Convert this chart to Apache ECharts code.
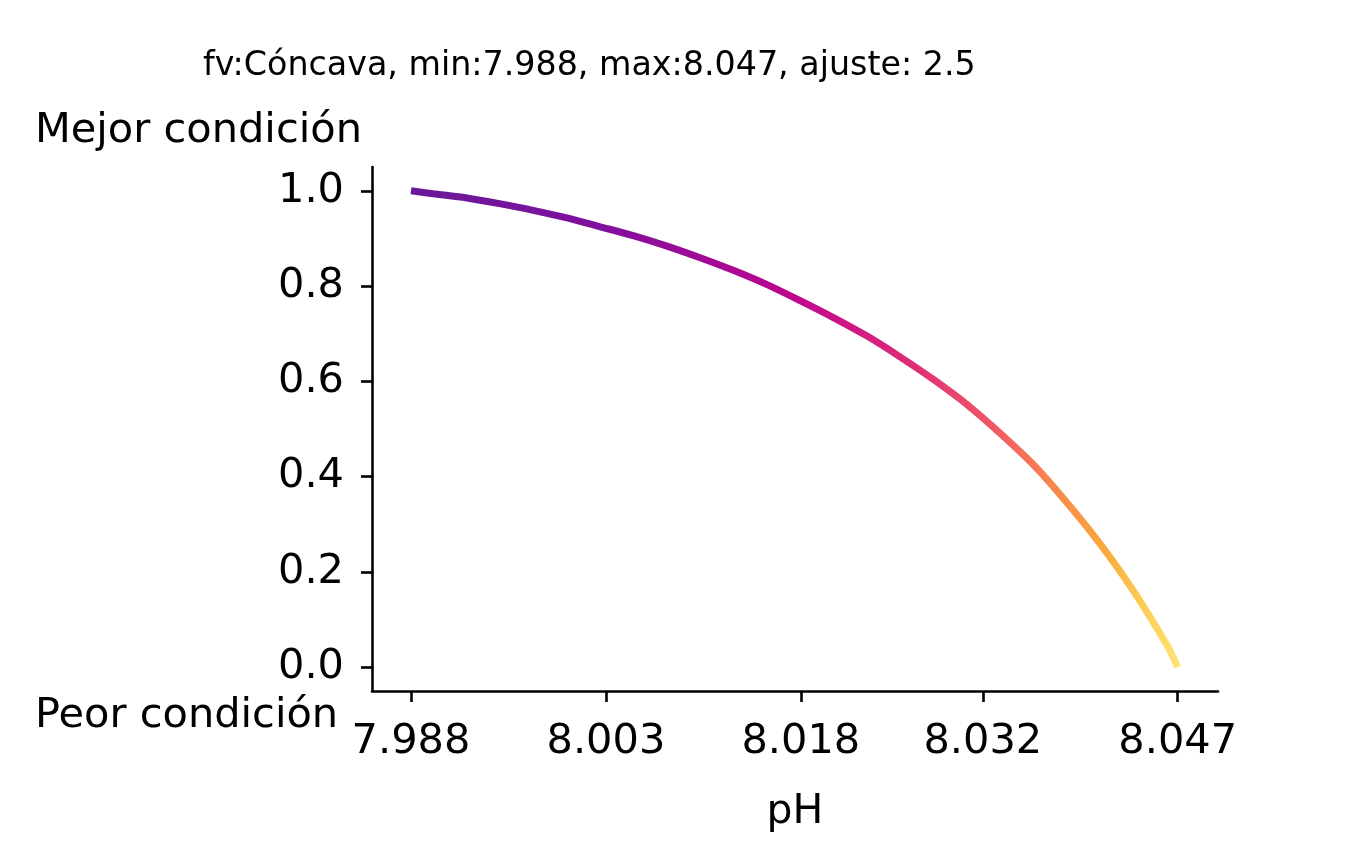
<!DOCTYPE html>
<html>

<head>
  <meta charset="utf-8">
  <title>ECharts</title>
  <script src="https://cdn.jsdelivr.net/npm/echarts@6/dist/echarts.min.js"></script>
  <style>
    html, body { margin: 0; padding: 0; background: #fff; }
  </style>
</head>

<body>
  <div id="main" style="width: 1353px;height:843px;"></div>
  <script type="text/javascript">
    // pH values
    var phValues = [7.988, 7.9897, 7.9923, 7.9948, 7.9974, 8.0000, 8.0025, 8.0051, 8.0077,
      8.0102, 8.0128, 8.0154, 8.0179, 8.0205, 8.0231, 8.0256, 8.0282, 8.0308,
      8.0333, 8.0359, 8.0384, 8.0410, 8.0436, 8.0462, 8.047];
    // condition score for each pH
    var scoreValues = [1.0, 0.994, 0.985, 0.973, 0.959, 0.943, 0.925, 0.906, 0.884,
      0.860, 0.833, 0.803, 0.770, 0.734, 0.695, 0.652, 0.604, 0.551,
      0.492, 0.425, 0.348, 0.260, 0.160, 0.045, 0.0];
    var xTicks = [7.988, 8.003, 8.018, 8.032, 8.047];
    var yTicks = [0, 0.2, 0.4, 0.6, 0.8, 1.0];

    var titleText = 'fv:Cóncava, min:7.988, max:8.047, ajuste: 2.5';

    var myChart = echarts.init(document.getElementById('main'));

    var data = [];
    for (var i = 0; i < phValues.length; i++) {
      data.push([phValues[i], scoreValues[i]]);
    }

    var font = 'DejaVu Sans';

    var option = {
      backgroundColor: '#fff',
      animation: false,
      title: [{
          text: titleText,
          left: 198,
          top: 45,
          textStyle: { fontFamily: font, fontSize: 33.3, fontWeight: 'normal', color: '#000' }
        },
        {
          text: 'Mejor condición',
          left: 30,
          top: 105,
          textStyle: { fontFamily: font, fontSize: 41.5, fontWeight: 'normal', color: '#000' }
        },
        {
          text: 'Peor condición',
          left: 30,
          top: 690,
          textStyle: { fontFamily: font, fontSize: 41.5, fontWeight: 'normal', color: '#000' }
        }
      ],
      grid: {
        left: 372,
        right: 135,
        top: 167,
        bottom: 152
      },
      xAxis: {
        type: 'value',
        min: 7.985,
        max: 8.0501,
        name: 'pH',
        nameLocation: 'middle',
        nameGap: 101,
        nameTextStyle: { fontFamily: font, fontSize: 41, color: '#000' },
        splitLine: { show: false },
        axisLine: {
          onZero: false,
          lineStyle: { color: '#000', width: 2.6 }
        },
        axisTick: {
          customValues: xTicks,
          length: 11,
          lineStyle: { color: '#000', width: 2.6 }
        },
        axisLabel: {
          customValues: xTicks,
          margin: 30,
          fontFamily: font,
          fontSize: 41.5,
          color: '#000',
          formatter: function (v) { return v.toFixed(3); }
        }
      },
      yAxis: {
        type: 'value',
        min: -0.05,
        max: 1.05,
        splitLine: { show: false },
        axisLine: {
          show: true,
          onZero: false,
          lineStyle: { color: '#000', width: 2.6 }
        },
        axisTick: {
          show: true,
          customValues: yTicks,
          length: 11,
          lineStyle: { color: '#000', width: 2.6 }
        },
        axisLabel: {
          customValues: yTicks,
          margin: 28,
          fontFamily: font,
          fontSize: 41.5,
          color: '#000',
          formatter: function (v) { return v.toFixed(1); }
        }
      },
      series: [{
        type: 'line',
        data: data,
        smooth: 0.3,
        symbol: 'none',
        lineStyle: {
          width: 7,
          // plasma-like colours along pH
          color: new echarts.graphic.LinearGradient(0, 0, 1, 0, [
            { offset: 0, color: '#681a98' },
            { offset: 0.25, color: '#80109e' },
            { offset: 0.5, color: '#c0058f' },
            { offset: 0.64, color: '#dc2a78' },
            { offset: 0.75, color: '#f05468' },
            { offset: 0.83, color: '#f8854e' },
            { offset: 0.9, color: '#f9a83c' },
            { offset: 0.95, color: '#fcce58' },
            { offset: 1, color: '#fee476' }
          ], false)
        }
      }]
    };

    myChart.setOption(option);
  </script>
</body>

</html>
